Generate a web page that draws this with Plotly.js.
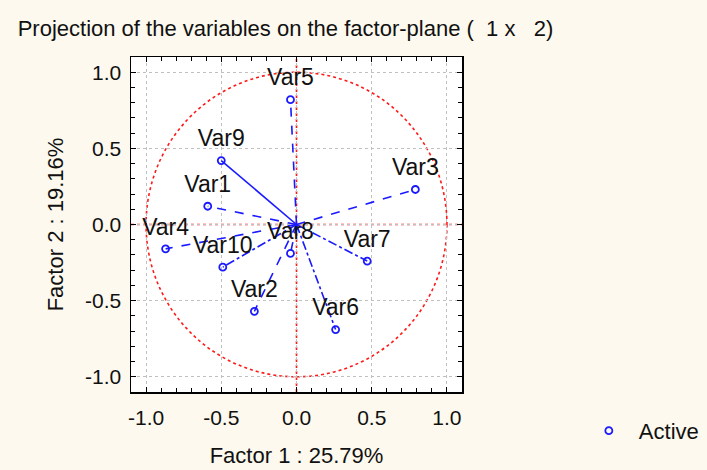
<!DOCTYPE html>
<html>
<head>
<meta charset="utf-8">
<script src="https://cdn.plot.ly/plotly-3.0.1.min.js"></script>
<style>html,body{margin:0;padding:0;background:#fdf9ee;}#chart{width:707px;height:470px;}</style>
</head>
<body>
<div id="chart"></div>
<script>
// Data
var varNames = ["Var1","Var2","Var3","Var4","Var5","Var6","Var7","Var8","Var9","Var10"];
var factor1 = [-0.59, -0.28, 0.79, -0.87, -0.04, 0.26, 0.47, -0.04, -0.50, -0.49];
var factor2 = [0.12, -0.57, 0.23, -0.16, 0.82, -0.69, -0.24, -0.19, 0.42, -0.28];
var lineDash = ["dash","dash","dash","dash","dash","dashdot","dashdot","dash","solid","dashdot"];
var tickVals = [-1.0, -0.5, 0.0, 0.5, 1.0];
var tickText = ["-1.0", "-0.5", "0.0", "0.5", "1.0"];

var FONT = "Liberation Sans, Arial, sans-serif";
var blue = "#1a1aff";
var traces = [];
for (var i = 0; i < varNames.length; i++) {
  traces.push({
    type: "scatter", mode: "lines",
    x: [0, factor1[i]], y: [0, factor2[i]],
    line: {color: blue, width: 1.6, dash: lineDash[i]},
    showlegend: false, hoverinfo: "skip"
  });
}
traces.push({
  type: "scatter", mode: "markers", name: "Active",
  x: factor1, y: factor2,
  marker: {symbol: "circle-open", size: 7, color: blue, line: {width: 1.8, color: blue}},
  showlegend: true
});
traces.push({
  type: "scatter", mode: "markers+text",
  x: factor1, y: factor2, text: varNames,
  textposition: "top center",
  marker: {size: 12, opacity: 0},
  textfont: {family: FONT, size: 23, color: "#111"},
  showlegend: false, hoverinfo: "skip"
});

var axisCommon = {
  range: [-1.1, 1.1],
  tickvals: tickVals, ticktext: tickText,
  ticks: "inside", ticklen: 5, tickwidth: 1, tickcolor: "#000",
  minor: {dtick: 0.1, ticks: "inside", ticklen: 4, tickcolor: "#000", showgrid: false},
  showline: true, linecolor: "#000", linewidth: 1.5, mirror: "allticks",
  showgrid: true, gridcolor: "#c0c0c0", griddash: "dot", gridwidth: 1,
  zeroline: false,
  tickfont: {family: FONT, size: 21, color: "#111"},
  fixedrange: true
};

var layout = {
  width: 707, height: 470,
  paper_bgcolor: "#fdf9ee", plot_bgcolor: "#ffffff",
  margin: {l: 131, r: 245, t: 57, b: 78, autoexpand: false},
  title: {
    text: "Projection of the variables on the factor-plane (  1 x   2)",
    font: {family: FONT, size: 22, color: "#111"},
    xref: "container", yref: "container", x: 0.025, xanchor: "left", y: 0.94, yanchor: "middle"
  },
  xaxis: Object.assign({}, axisCommon, {
    title: {text: "Factor 1 : 25.79%", font: {family: FONT, size: 22, color: "#111"}, standoff: 20},
    ticklabelstandoff: 6
  }),
  yaxis: Object.assign({}, axisCommon, {
    title: {text: "Factor 2 : 19.16%", font: {family: FONT, size: 22, color: "#111"}, standoff: 15},
    ticklabelstandoff: 4
  }),
  shapes: [
    {type: "circle", xref: "x", yref: "y", x0: -1, x1: 1, y0: -1, y1: 1,
     line: {color: "#ff1a1a", width: 1.6, dash: "dot"}, layer: "below"},
    {type: "line", xref: "paper", yref: "y", x0: 0, x1: 1, y0: 0, y1: 0,
     line: {color: "#ff1a1a", width: 1.6, dash: "dot"}, layer: "below"},
    {type: "line", xref: "x", yref: "paper", x0: 0, x1: 0, y0: 0, y1: 1,
     line: {color: "#ff1a1a", width: 1.6, dash: "dot"}, layer: "below"}
  ],
  legend: {
    x: 1.353, xanchor: "left", y: -0.116, yanchor: "middle",
    itemwidth: 50,
    bgcolor: "rgba(0,0,0,0)",
    font: {family: FONT, size: 22, color: "#111"}
  },
  showlegend: true
};

Plotly.newPlot("chart", traces, layout, {displayModeBar: false, staticPlot: true});
</script>
</body>
</html>
